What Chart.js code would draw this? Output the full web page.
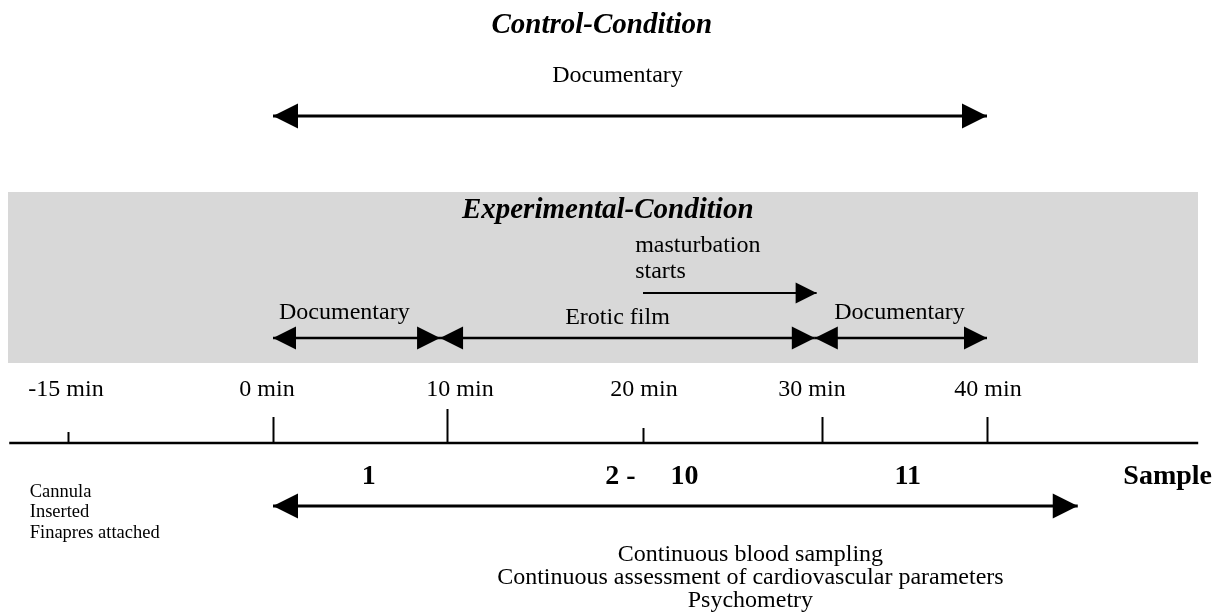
<!DOCTYPE html>
<html>
<head>
<meta charset="utf-8">
<script src="https://cdn.jsdelivr.net/npm/chart.js@4/dist/chart.umd.min.js"></script>
<style>
  html, body { margin: 0; padding: 0; background: #fff; }
  #wrap { width: 1217px; height: 613px; }
</style>
</head>
<body>
<div id="wrap"><canvas id="myChart"></canvas></div>
<script>
// time axis (minutes)
const tickValues = [-15, 0, 10, 20, 30, 40];
const tickLabels = ['-15 min', '0 min', '10 min', '20 min', '30 min', '40 min'];

// control condition
const controlPhases = ['Documentary'];
const controlStart = [0];
const controlEnd = [40];

// experimental condition
const expPhases = ['Documentary', 'Erotic film', 'Documentary'];
const expStart = [0, 9.6, 29.6];
const expEnd = [9.6, 29.6, 40];
const mastLabel = ['masturbation', 'starts'];
const mastStart = [20];
const mastEnd = [29.7];

// sampling
const sampleLabels = ['1', '2 -     10', '11'];
const sampleAt = [5.5, 20.5, 35.2];
const samplingStart = [0];
const samplingEnd = [45.5];
const prepNotes = ['Cannula', 'Inserted', 'Finapres attached'];
const measureNotes = ['Continuous blood sampling', 'Continuous assessment of cardiovascular parameters', 'Psychometry'];

// the drawing is not to scale, so the axis is piecewise linear between the ticks
const W = 1217;
const knotPx = [68, 273, 447, 643, 822, 987];

const serif = "'Liberation Serif', 'Times New Roman', serif";

class TimelineScale extends Chart.LinearScale {
  getPixelForValue(value) {
    let i = 1;
    while (i < tickValues.length - 1 && value > tickValues[i]) i++;
    const v0 = tickValues[i - 1], v1 = tickValues[i];
    const p0 = knotPx[i - 1] / W, p1 = knotPx[i] / W;
    const f = p0 + (value - v0) * (p1 - p0) / (v1 - v0);
    return this.left + f * this.width;
  }
  getValueForPixel(pixel) {
    const f = (pixel - this.left) / this.width;
    let i = 1;
    while (i < knotPx.length - 1 && f > knotPx[i] / W) i++;
    const p0 = knotPx[i - 1] / W, p1 = knotPx[i] / W;
    return tickValues[i - 1] + (f - p0) * (tickValues[i] - tickValues[i - 1]) / (p1 - p0);
  }
}
TimelineScale.id = 'timeline';
TimelineScale.defaults = Chart.LinearScale.defaults;
Chart.register(TimelineScale);

// rows on the y scale (top = 0)
const row = {
  controlTitle: 26, controlText: 76, controlArrow: 116,
  bandTop: 192, bandBottom: 363,
  expTitle: 211, mast1: 246, mast2: 272, mastArrow: 293,
  expText: 313, expArrow: 338,
  tickLabel: 390, axis: 443,
  sample: 477, samplingArrow: 506,
  prep: 492, measure: 555
};

const arrow = (s, e, y, width, heads, size) => ({
  data: [{ x: s, y: y }, { x: e, y: y }],
  showLine: true,
  borderColor: '#000',
  borderWidth: width,
  pointRadius: 0,
  heads: heads,
  headSize: size
});

const datasets = [];
controlPhases.forEach((p, i) => datasets.push(arrow(controlStart[i], controlEnd[i], row.controlArrow, 3, 'both', 25)));
expPhases.forEach((p, i) => datasets.push(arrow(expStart[i], expEnd[i], row.expArrow, 2.5, 'both', 23)));
datasets.push(arrow(mastStart[0], mastEnd[0], row.mastArrow, 2, 'end', 21));
datasets.push(arrow(samplingStart[0], samplingEnd[0], row.samplingArrow, 3, 'both', 25));
// time axis line
datasets.push(arrow(-19.3, 52.8, row.axis, 2.5, null, 0));

const drawHead = (ctx, tip, from, size) => {
  const dx = tip.x - from.x, dy = tip.y - from.y;
  const len = Math.hypot(dx, dy) || 1;
  const ux = dx / len, uy = dy / len;
  const bx = tip.x - ux * size, by = tip.y - uy * size;
  ctx.beginPath();
  ctx.moveTo(tip.x, tip.y);
  ctx.lineTo(bx - uy * size / 2, by + ux * size / 2);
  ctx.lineTo(bx + uy * size / 2, by - ux * size / 2);
  ctx.closePath();
  ctx.fill();
};

const arrowHeads = {
  id: 'arrowHeads',
  afterDatasetsDraw(chart) {
    const ctx = chart.ctx;
    ctx.save();
    chart.data.datasets.forEach((ds, i) => {
      if (!ds.heads) return;
      const pts = chart.getDatasetMeta(i).data;
      const a = pts[0], b = pts[pts.length - 1];
      ctx.fillStyle = ds.borderColor;
      drawHead(ctx, b, a, ds.headSize);
      if (ds.heads === 'both') drawHead(ctx, a, b, ds.headSize);
    });
    ctx.restore();
  }
};

const band = {
  id: 'band',
  beforeDatasetsDraw(chart) {
    const { ctx, scales: { y } } = chart;
    const top = y.getPixelForValue(row.bandTop), bot = y.getPixelForValue(row.bandBottom);
    ctx.save();
    ctx.fillStyle = '#d8d8d8';
    ctx.fillRect(8, top, 1190, bot - top);
    ctx.restore();
  }
};

const tickTop = [432, 417, 409, 428, 417, 417];
// the printed labels sit a little off their ticks
const tickLabelShift = [-2, -6, 13, 1, -10, 1];

const labels = {
  id: 'labels',
  afterDatasetsDraw(chart) {
    const { ctx, scales: { x, y } } = chart;
    const put = (text, xv, yv, font, align, dx) => {
      ctx.font = font;
      ctx.textAlign = align || 'center';
      const px = typeof xv === 'number' ? x.getPixelForValue(xv) : xv.px;
      ctx.fillText(text, px + (dx || 0), y.getPixelForValue(yv));
    };
    ctx.save();
    ctx.fillStyle = '#000';
    ctx.textBaseline = 'middle';

    // tick marks and labels
    ctx.strokeStyle = '#000';
    ctx.lineWidth = 2;
    tickValues.forEach((v, i) => {
      const px = Math.round(x.getPixelForValue(v)) + 0.5;
      ctx.beginPath();
      ctx.moveTo(px, y.getPixelForValue(row.axis));
      ctx.lineTo(px, y.getPixelForValue(tickTop[i]));
      ctx.stroke();
      put(tickLabels[i], v, row.tickLabel, '24px ' + serif, 'center', tickLabelShift[i]);
    });

    put('Control-Condition', 17.9, row.controlTitle, 'italic bold 29px ' + serif);
    put(controlPhases[0], 18.7, row.controlText, '24px ' + serif);

    put('Experimental-Condition', 18.2, row.expTitle, 'italic bold 29px ' + serif);
    put(mastLabel[0], 19.6, row.mast1, '24px ' + serif, 'left');
    put(mastLabel[1], 19.6, row.mast2, '24px ' + serif, 'left');
    const expTextAt = [4.1, 18.7, 34.7];
    const expTextRow = [row.expText, row.expText + 5, row.expText];
    expPhases.forEach((p, i) => put(p, expTextAt[i], expTextRow[i], '24px ' + serif));

    sampleLabels.forEach((s, i) => put(s, sampleAt[i], row.sample, 'bold 28px ' + serif));
    put('Sample', { px: chart.width - 5 }, row.sample, 'bold 28px ' + serif, 'right');

    prepNotes.forEach((t, i) => put(t, -17.8, row.prep + i * 20.5, '18.5px ' + serif, 'left'));
    measureNotes.forEach((t, i) => put(t, 26.0, row.measure + i * 23, '24px ' + serif));
    ctx.restore();
  }
};

new Chart(document.getElementById('myChart'), {
  type: 'scatter',
  data: { datasets: datasets },
  options: {
    responsive: true,
    maintainAspectRatio: false,
    animation: false,
    events: [],
    layout: { padding: 0 },
    scales: {
      x: { type: 'timeline', min: -19.3, max: 52.8, display: false },
      y: { type: 'linear', min: 0, max: 613, reverse: true, display: false }
    },
    plugins: { legend: { display: false }, tooltip: { enabled: false } }
  },
  plugins: [band, arrowHeads, labels]
});
</script>
</body>
</html>
